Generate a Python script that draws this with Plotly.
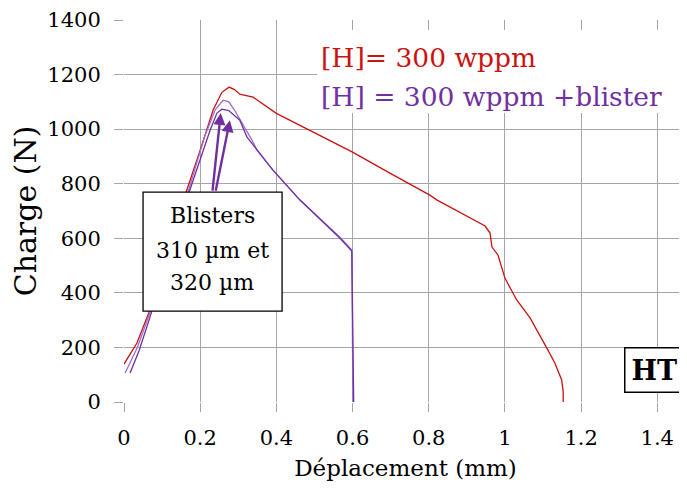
import plotly.graph_objects as go

# Data
red_x = [0.0, 0.034, 0.068, 0.10, 0.13, 0.165, 0.20, 0.234, 0.257, 0.276, 0.29, 0.304, 0.315, 0.33, 0.339,
         0.40, 0.48, 0.60, 0.698, 0.803, 0.822, 0.916, 0.948, 0.961, 0.966, 0.982, 1.0, 1.031, 1.066,
         1.113, 1.131, 1.149, 1.153, 1.153]
red_y = [139, 216, 337, 460, 620, 777, 923, 1070, 1135, 1154, 1145, 1128, 1125, 1120, 1117,
         1058, 1000, 916, 839, 758, 740, 667, 645, 619, 568, 538, 454, 374, 308,
         190, 143, 81, 37, 0]

lp_x = [0.003, 0.035, 0.068, 0.10, 0.13, 0.168, 0.213, 0.239, 0.26, 0.275, 0.29, 0.305, 0.32, 0.336, 0.349,
        0.391, 0.462, 0.567, 0.598, 0.601]
lp_y = [106, 200, 326, 460, 610, 769, 978, 1070, 1106, 1100, 1070, 1035, 1000, 960, 923,
        850, 740, 604, 557, 0]

dp_x = [0.016, 0.04, 0.068, 0.10, 0.13, 0.168, 0.226, 0.244, 0.257, 0.275, 0.29, 0.304, 0.323, 0.349,
        0.391, 0.462, 0.567, 0.598, 0.603]
dp_y = [106, 190, 310, 450, 600, 760, 996, 1059, 1073, 1068, 1050, 1033, 971, 923,
        850, 740, 600, 553, 0]

x_ticks = [0, 0.2, 0.4, 0.6, 0.8, 1.0, 1.2, 1.4]
x_tick_text = ["0", "0.2", "0.4", "0.6", "0.8", "1", "1.2", "1.4"]
y_ticks = [0, 200, 400, 600, 800, 1000, 1200, 1400]

RED = "#cc1111"
PURPLE = "#7030a0"
LPURPLE = "#9a70cc"
GRID = "#a6a6a6"
FONT = "DejaVu Serif"

fig = go.Figure()
fig.add_trace(go.Scatter(x=red_x, y=red_y, mode="lines", line=dict(color=RED, width=1.3), showlegend=False))
fig.add_trace(go.Scatter(x=lp_x, y=lp_y, mode="lines", line=dict(color=LPURPLE, width=1.3), showlegend=False))
fig.add_trace(go.Scatter(x=dp_x, y=dp_y, mode="lines", line=dict(color=PURPLE, width=1.3), showlegend=False))

# Legend box (white background covering grid)
fig.add_shape(type="rect", xref="x", yref="y", x0=0.507, x1=1.47, y0=1059, y1=1363,
              fillcolor="white", line=dict(width=0), layer="above")
# Blisters box
fig.add_shape(type="rect", xref="x", yref="y", x0=0.05, x1=0.415, y0=333, y1=769,
              fillcolor="white", line=dict(color="black", width=1.3), layer="above")

ann = []
ann.append(dict(x=0.512, y=1262, xref="x", yref="y", text="[H]= 300 wppm", showarrow=False,
                xanchor="left", yanchor="middle", font=dict(family=FONT, size=26.5, color=RED)))
ann.append(dict(x=0.512, y=1120, xref="x", yref="y", text="[H] = 300 wppm +blister", showarrow=False,
                xanchor="left", yanchor="middle", font=dict(family=FONT, size=26.5, color=PURPLE)))
for txt, yy in [("Blisters", 685), ("310 µm et", 557), ("320 µm", 437)]:
    ann.append(dict(x=0.232, y=yy, xref="x", yref="y", text=txt, showarrow=False,
                    xanchor="center", yanchor="middle", font=dict(family=FONT, size=22, color="black")))
# arrows
for hx, hy, tx, ty in [(0.254, 1059, 0.232, 769), (0.278, 1033, 0.240, 769)]:
    ann.append(dict(x=hx, y=hy, ax=tx, ay=ty, xref="x", yref="y", axref="x", ayref="y", text="",
                    showarrow=True, arrowhead=2, arrowsize=1, arrowwidth=2.4, arrowcolor=PURPLE, standoff=0))
ann.append(dict(x=1.392, y=117, xref="x", yref="y", text="<b>HT</b>", showarrow=False,
                xanchor="center", yanchor="middle", bgcolor="white", bordercolor="black", borderwidth=1.5,
                borderpad=6, font=dict(family=FONT, size=27, color="black")))
fig.update_layout(annotations=ann)

fig.update_xaxes(range=[0, 1.478], tickvals=x_ticks, ticktext=x_tick_text, showgrid=True, gridcolor=GRID,
                 gridwidth=1.2, zeroline=False, showline=False, ticks="outside", ticklen=9, tickcolor=GRID,
                 tickwidth=1.2, tickfont=dict(family=FONT, size=21, color="black"), automargin=False,
                 ticklabelstandoff=8,
                 title=dict(text="Déplacement (mm)", font=dict(family=FONT, size=23, color="black"), standoff=10))
fig.update_yaxes(range=[0, 1400], tickvals=y_ticks, showgrid=True, gridcolor=GRID, gridwidth=1.2,
                 zeroline=False, showline=False, ticks="outside", ticklen=9, tickcolor=GRID, tickwidth=1.2,
                 tickfont=dict(family=FONT, size=21, color="black"), automargin=False,
                 ticklabelstandoff=9,
                 title=dict(text="Charge (N)", font=dict(family=FONT, size=30, color="black"), standoff=4))

# the page body has an 8px margin, so the figure is 8px smaller and margins shifted
fig.update_layout(width=679, height=481, margin=dict(l=116, r=0, t=12, b=87),
                  plot_bgcolor="white", paper_bgcolor="white")
fig.write_html("out.html")
